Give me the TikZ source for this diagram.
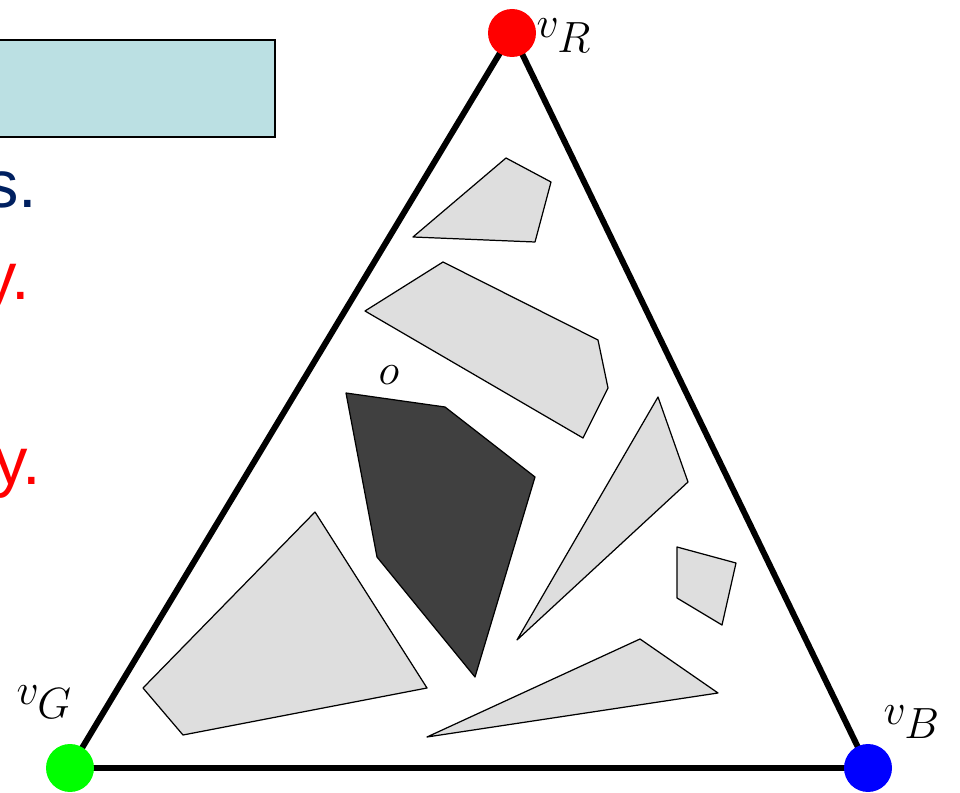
\documentclass[tikz,border=0pt]{standalone}
\usepackage{fontspec}
\newfontfamily\slidefont{Liberation Sans}
\usetikzlibrary{positioning}
\definecolor{boxblue}{RGB}{187,224,227}
\definecolor{slidenavy}{RGB}{0,32,96}
\definecolor{obstgray}{RGB}{222,222,222}
\definecolor{targetgray}{RGB}{64,64,64}
\tikzset{every picture/.style={line width=0.75pt}}

\begin{document}
\begin{tikzpicture}[
    x=0.02cm, y=-0.02cm,
    edge/.style={line width=3.4pt},
    vertex/.style={circle,inner sep=0pt,minimum size=0.96cm},
    vlabel/.style={inner sep=0pt,font=\fontsize{31}{34}\selectfont},
    obstacle/.style={draw=black,fill=obstgray,line width=0.7pt,line join=round},
    target/.style={draw=black,fill=targetgray,line width=0.7pt,line join=round},
    slidetext/.style={anchor=base east,inner sep=0pt,font=\slidefont\fontsize{38}{44}\selectfont}
]
    \useasboundingbox (0,0) rectangle (960,793);
    \clip (0,0) rectangle (960,793);

    % Slide remains on the left
    \draw[fill=boxblue,line width=1.6pt] (-20,40) rectangle (275,137);
    \node[slidetext,text=slidenavy] (line1) at (38,208) {s.};
    \node[slidetext,text=red] (line2) at (31,300) {y.};
    \node[slidetext,text=red] (line3) at (42,485) {y.};

    % Corners of the triangle
    \coordinate (R) at (512,33);
    \coordinate (G) at (70,768);
    \coordinate (B) at (868,768);
    \draw[edge] (R) -- (G) -- (B) -- cycle;

    % Obstacles
    \draw[obstacle] (413,237) -- (535,242) -- (551,182) -- (506,158) -- cycle;
    \draw[obstacle] (365,311) -- (443,262) -- (598,340) -- (608,388) -- (583,438) -- cycle;
    \draw[obstacle] (658,397) -- (688,482) -- (517,640) -- cycle;
    \draw[obstacle] (677,547) -- (736,563) -- (722,625) -- (677,598) -- cycle;
    \draw[obstacle] (427,737) -- (640,639) -- (718,693) -- cycle;
    \draw[obstacle] (315,512) -- (427,688) -- (183,735) -- (143,688) -- cycle;

    % Object o
    \draw[target] (346,393) -- (445,407) -- (535,477) -- (475,677) -- (377,557) -- cycle;
    \node[vlabel] (olbl) at (389,375) {$o$};

    % Vertices
    \node[vertex,fill=red] (vR) at (R) {};
    \node[vertex,fill=green] (vG) at (G) {};
    \node[vertex,fill=blue] (vB) at (B) {};
    \node[vlabel,anchor=base west] (vRlbl) at (536,38) {$v_{\textstyle R}$};
    \node[vlabel,anchor=base west] (vGlbl) at (16,704) {$v_{\textstyle G}$};
    \node[vlabel,anchor=base west] (vBlbl) at (883,724) {$v_{\textstyle B}$};
\end{tikzpicture}
\end{document}
